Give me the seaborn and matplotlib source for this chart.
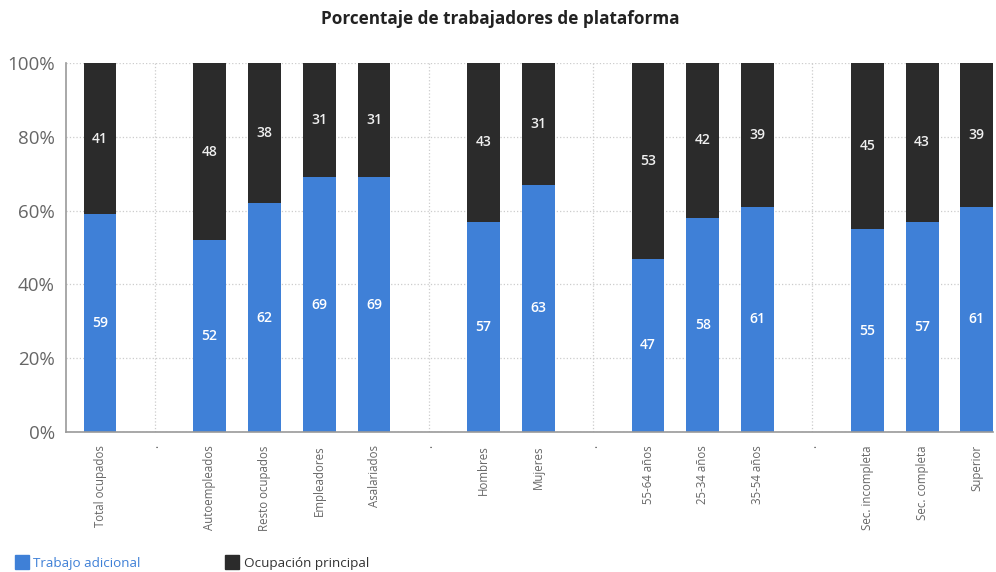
import numpy as np
import pandas as pd
import matplotlib
matplotlib.use('Agg')
import matplotlib.pyplot as plt
from matplotlib.lines import Line2D
import seaborn as sns

categorias = ['Total ocupados', '.', 'Autoempleados', 'Resto ocupados', 'Empleadores',
              'Asalariados', '.', 'Hombres', 'Mujeres', '.', '55-64 años', '25-34 años',
              '35-54 años', '.', 'Sec. incompleta', 'Sec. completa', 'Superior']
trabajo_adicional = [59, 0, 52, 62, 69, 69, 0, 57, 63, 0, 47, 58, 61, 0, 55, 57, 61]
ocupacion_principal = [41, 0, 48, 38, 31, 31, 0, 43, 31, 0, 53, 42, 39, 0, 45, 43, 39]

azul = '#3f80d7'
negro = '#2b2b2b'

sns.set_style('white')
plt.rcParams['font.family'] = ['Open Sans', 'DejaVu Sans']

df = pd.DataFrame({'key': [f'c{i}' for i in range(len(categorias))],
                   'label': categorias,
                   'adicional': trabajo_adicional,
                   'principal': ocupacion_principal})
total = df['adicional'] + df['principal']
df['pct_adicional'] = np.where(total > 0, df['adicional'] / total.replace(0, 1) * 100, 0)
df['pct_total'] = np.where(total > 0, 100, 0)

fig = plt.figure(figsize=(9.96, 5.72), dpi=100)
ax = fig.add_axes([0.0663, 0.2448, 0.931, 0.6451])

sns.barplot(data=df, x='key', y='pct_total', color=negro, width=0.6, saturation=1,
            linewidth=0, ax=ax)
sns.barplot(data=df, x='key', y='pct_adicional', color=azul, width=0.6, saturation=1,
            linewidth=0, ax=ax)

for i, row in df.iterrows():
    if row['pct_total'] == 0:
        continue
    ax.text(i, row['pct_adicional'] / 2, f"{row['adicional']}", color='white',
            ha='center', va='center', fontsize=10, fontweight='semibold')
    ax.text(i, row['pct_adicional'] + (100 - row['pct_adicional']) / 2, f"{row['principal']}",
            color='#f0f0f0', ha='center', va='center', fontsize=10, fontweight='semibold')

ax.set_xlim(-0.62, 16.3)
ax.set_ylim(0, 100)
ax.set_xticks(range(len(categorias)))
ax.set_xticklabels(categorias, rotation=90, fontsize=8.3, color='#666666')
ax.set_yticks([0, 20, 40, 60, 80, 100])
ax.set_yticklabels(['0%', '20%', '40%', '60%', '80%', '100%'], fontsize=13.5, color='#666666')
ax.set_xlabel('')
ax.set_ylabel('')
ax.tick_params(axis='x', length=6, color='#888888', width=1)
ax.tick_params(axis='y', length=6, color='#888888', width=1, pad=2)
ax.grid(True, linestyle=':', color='#cccccc', linewidth=0.9)
ax.set_axisbelow(True)
for s in ['top', 'right']:
    ax.spines[s].set_visible(False)
for s in ['left', 'bottom']:
    ax.spines[s].set_color('#999999')
    ax.spines[s].set_linewidth(1.2)

fig.suptitle('Porcentaje de trabajadores de plataforma', x=0.502, y=0.982,
             fontsize=12.3, fontweight='bold', color='#222222')

handles = [Line2D([], [], marker='s', linestyle='', markersize=9.5, color=azul),
           Line2D([], [], marker='s', linestyle='', markersize=9.5, color=negro)]
fig.legend(handles, ['Trabajo adicional', 'Ocupación principal'], loc='lower left',
           bbox_to_anchor=(0.003, -0.018), ncol=2, frameon=False, fontsize=9.7,
           handletextpad=0.35, columnspacing=6.3, handlelength=1.0,
           labelcolor=[azul, '#333333'])

fig.savefig('out.png', dpi=100)
